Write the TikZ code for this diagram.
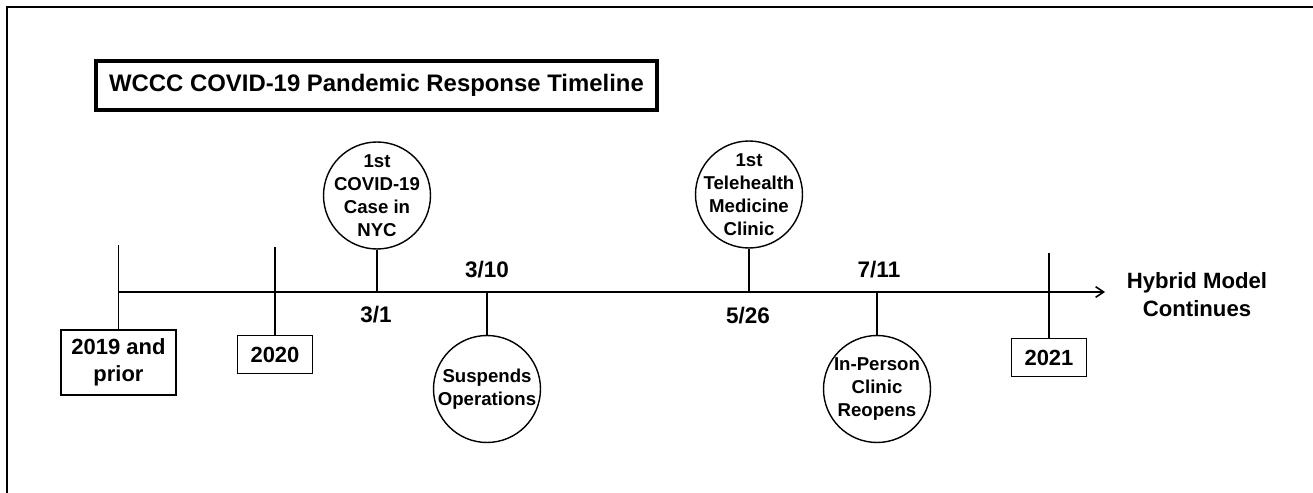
\documentclass[tikz,border=0pt]{standalone}
\usepackage{fontspec}
\setmainfont{Liberation Sans}
\usetikzlibrary{arrows.meta, positioning}
\tikzstyle{yearbox}=[draw=black, line width=0.9pt, align=center, inner sep=0pt, font=\bfseries\fontsize{12.5}{15.4}\selectfont]
\tikzstyle{eventc}=[shape=circle, draw=black, line width=0.8pt, inner sep=0pt, minimum size=2.14cm]
\tikzstyle{eventtxt}=[align=center, inner sep=0pt, font=\bfseries\fontsize{10.6}{13}\selectfont]
\tikzstyle{datelbl}=[anchor=base, inner sep=0pt, font=\bfseries\fontsize{12.8}{15}\selectfont]
\tikzstyle{tickline}=[line width=0.7pt]

\begin{document}
\begin{tikzpicture}[x=0.02cm, y=-0.02cm]
\useasboundingbox (0,0) rectangle (1313,493);
\draw [line width=0.6pt] (1313,7) -- (7,7) -- (7,493);
\node [draw, line width=2.2pt, minimum width=11.22cm, minimum height=0.98cm, inner sep=0pt, font=\bfseries\fontsize{13.6}{15}\selectfont] (title) at (376.5,85.5) {WCCC COVID-19 Pandemic Response Timeline};

% timeline
\coordinate (t0) at (118.5,292); \coordinate (t1) at (1105,292);
\draw [line width=0.9pt, -{Straight Barb[length=4.5pt, width=6pt]}] (t0) -- (t1);
\coordinate (d31) at (377,292); \coordinate (d310) at (487,292);
\coordinate (d526) at (749,292); \coordinate (d711) at (877,292);

% years
\node [yearbox, minimum width=2.3cm, minimum height=1.3cm] (y19) at (118.5,362.5) {2019 and\\prior};
\node [yearbox, minimum width=1.5cm, minimum height=0.76cm] (y20) at (275,354.5) {2020};
\node [yearbox, minimum width=1.5cm, minimum height=0.76cm] (y21) at (1049,357.5) {2021};
\coordinate (y19top) at (118.5,245); \coordinate (y20top) at (275,247); \coordinate (y21top) at (1049,253);
\draw [tickline] (y19top) -- (y19) (y20top) -- (y20) (y21top) -- (y21);

% events
\node [eventc, label={[eventtxt]center:{1st\\COVID-19\\Case in\\NYC}}] (covid) at (377,195.5) {};
\node [eventc, label={[eventtxt]center:{1st\\Telehealth\\Medicine\\Clinic}}] (tele) at (749,194.5) {};
\node [eventc, label={[eventtxt]center:{Suspends\\Operations}}] (susp) at (487,389) {};
\node [eventc, label={[eventtxt]center:{In-Person\\Clinic\\Reopens}}] (reop) at (877,389) {};
\draw [tickline] (covid) -- (d31) (tele) -- (d526) (susp) -- (d310) (reop) -- (d711);

\node [datelbl] (l31) at (376,323) {3/1};
\node [datelbl] (l310) at (487,278) {3/10};
\node [datelbl] (l526) at (748,324) {5/26};
\node [datelbl] (l711) at (879,278) {7/11};

\node [anchor=north, align=center, inner sep=0pt, font=\bfseries\fontsize{12.6}{16}\selectfont] (hyb) at (1197,272) {Hybrid Model\\Continues};
\end{tikzpicture}
\end{document}
